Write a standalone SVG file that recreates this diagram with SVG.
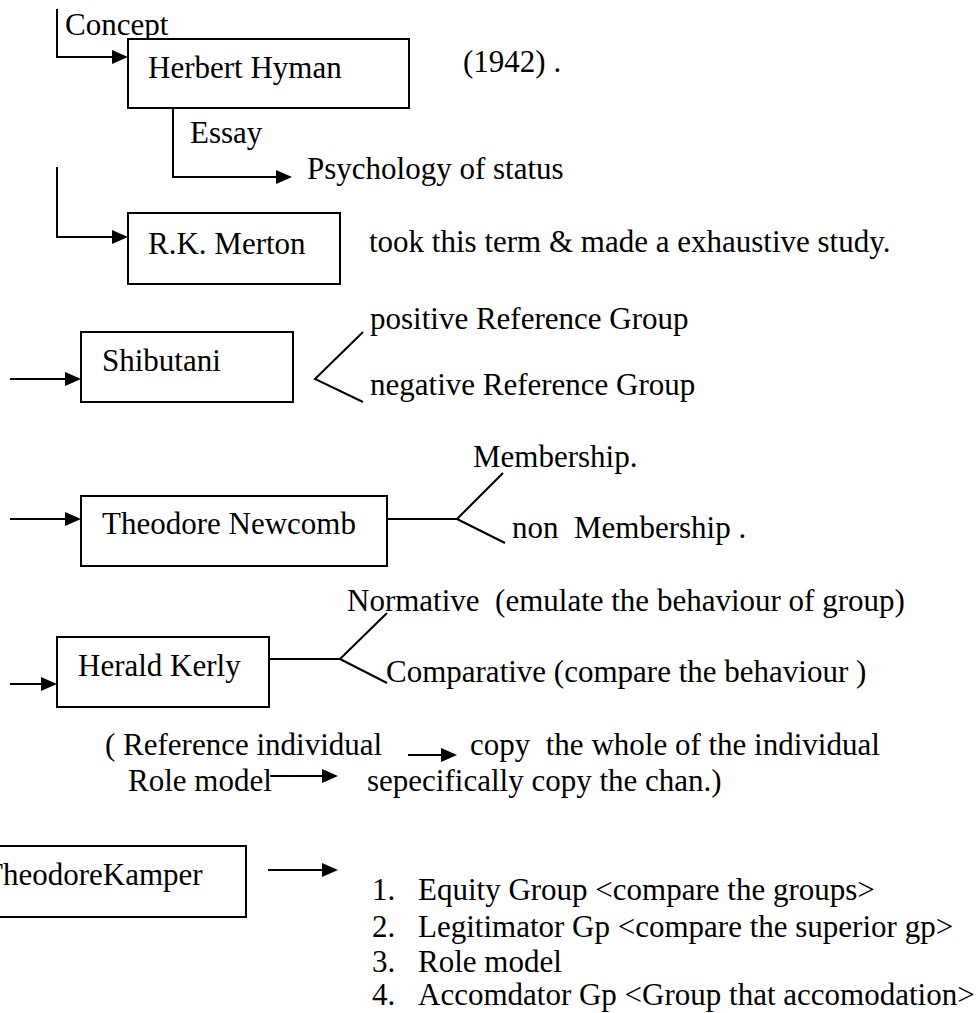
<svg xmlns="http://www.w3.org/2000/svg" width="980" height="1013" viewBox="0 0 980 1013">
  <style>
    text { font-family: "Liberation Serif", "Times New Roman", serif; font-size: 31px; fill: #000; white-space: pre; }
    .box { fill: #fff; stroke: #000; stroke-width: 2; }
    .ln { fill: none; stroke: #000; stroke-width: 2; }
    .arr { fill: none; stroke: #000; stroke-width: 2; marker-end: url(#ah); }
  </style>
  <defs>
    <marker id="ah" viewBox="0 0 16 14" refX="6" refY="7" markerWidth="16" markerHeight="14" orient="auto" markerUnits="userSpaceOnUse">
      <path d="M0,0 L16,7 L0,14 z" fill="#000"/>
    </marker>
  </defs>
  <rect width="980" height="1013" fill="#fff"/>

  <!-- connectors -->
  <g id="connectors">
    <path class="arr" d="M57,9 V57 H118"/>
    <path class="arr" d="M173,108 V177 H282"/>
    <path class="arr" d="M57,167 V237 H118"/>
    <path class="arr" d="M10,379 H71"/>
    <path class="arr" d="M10,519 H71"/>
    <path class="arr" d="M10,684 H47"/>
    <path class="arr" d="M408,755 H447"/>
    <path class="arr" d="M270,776 H328"/>
    <path class="arr" d="M268,870 H328"/>
    <!-- branch forks -->
    <path class="ln" d="M363,332 L315,379 L363,402"/>
    <path class="ln" d="M387,519 H457 L503,473 M457,519 L505,543"/>
    <path class="ln" d="M269,659 H340 L387,613 M340,659 L387,683"/>
  </g>

  <g id="labels">
    <text x="65" y="35">Concept</text>
    <text x="463" y="72">(1942) .</text>
    <text x="190" y="143">Essay</text>
    <text x="307" y="179">Psychology of status</text>
    <text x="369" y="252">took this term &amp; made a exhaustive study.</text>
    <text x="370" y="329">positive Reference Group</text>
    <text x="370" y="395">negative Reference Group</text>
    <text x="473" y="467">Membership.</text>
    <text x="512" y="538">non  Membership .</text>
    <text x="347" y="611">Normative  (emulate the behaviour of group)</text>
    <text x="386" y="682">Comparative (compare the behaviour )</text>
    <text x="105" y="755">( Reference individual</text>
    <text x="470" y="755">copy  the whole of the individual</text>
    <text x="128" y="791">Role model</text>
    <text x="367" y="791">sepecifically copy the chan.)</text>
  </g>

  <g id="hyman">
    <rect class="box" x="128" y="39" width="281" height="69"/>
    <text x="148" y="78">Herbert Hyman</text>
  </g>
  <g id="merton">
    <rect class="box" x="128" y="213" width="212" height="71"/>
    <text x="148" y="254">R.K. Merton</text>
  </g>
  <g id="shibutani">
    <rect class="box" x="81" y="332" width="212" height="70"/>
    <text x="102" y="371">Shibutani</text>
  </g>
  <g id="newcomb">
    <rect class="box" x="81" y="496" width="306" height="70"/>
    <text x="102" y="534">Theodore Newcomb</text>
  </g>
  <g id="kerly">
    <rect class="box" x="57" y="637" width="212" height="70"/>
    <text x="78" y="676">Herald Kerly</text>
  </g>
  <g id="kamper">
    <rect class="box" x="-40" y="846" width="286" height="71"/>
    <text x="-16" y="885">TheodoreKamper</text>
  </g>

  <g id="kamper-list">
    <text x="372" y="900">1.</text><text x="418" y="900">Equity Group &lt;compare the groups&gt;</text>
    <text x="372" y="937">2.</text><text x="418" y="937">Legitimator Gp &lt;compare the superior gp&gt;</text>
    <text x="372" y="972">3.</text><text x="418" y="972">Role model</text>
    <text x="372" y="1005">4.</text><text x="418" y="1005">Accomdator Gp &lt;Group that accomodation&gt;</text>
  </g>
</svg>
